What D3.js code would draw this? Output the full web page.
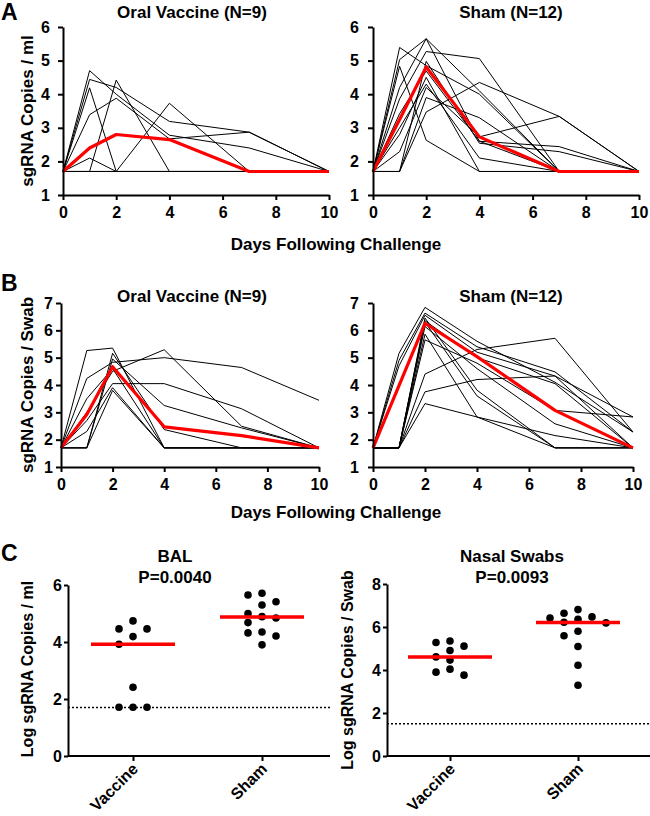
<!DOCTYPE html>
<html><head><meta charset="utf-8">
<script src="https://cdn.jsdelivr.net/npm/d3@7"></script>
<style>
body{margin:0;background:#fff;}
svg text{font-family:"Liberation Sans",Arial,Helvetica,sans-serif;font-weight:bold;fill:#000;}
</style></head><body>
<svg id="c" width="650" height="816"></svg>
<script>
// ---------- DATA ----------
const days = [0, 1, 2, 4, 7, 10];
const dayTicks = [0, 2, 4, 6, 8, 10];

// Panel A: sgRNA copies / ml (BAL), log10
const vaccineBAL = [
  [1.7, 4.70, 4.00, 2.78, 2.40, 1.7],
  [1.7, 4.44, 4.20, 3.19, 2.87, 1.7],
  [1.7, 4.19, 1.70, 1.70, 1.70, 1.7],
  [1.7, 3.39, 3.88, 2.67, 2.87, 1.7],
  [1.7, 1.70, 4.42, 1.70, 1.70, 1.7],
  [1.7, 1.70, 1.70, 3.73, 1.70, 1.7],
  [1.7, 2.10, 1.70, 1.70, 1.70, 1.7],
  [1.7, 1.70, 1.70, 1.70, 1.70, 1.7],
  [1.7, 1.70, 1.70, 1.70, 1.70, 1.7]
];
const vaccineBALMean = [1.7, 2.40, 2.80, 2.65, 1.70, 1.7];

const shamBAL = [
  [1.7, 5.39, 4.85, 4.00, 1.70, 1.7],
  [1.7, 5.03, 5.65, 2.60, 1.70, 1.7],
  [1.7, 4.83, 2.63, 1.70, 1.70, 1.7],
  [1.7, 4.20, 5.65, 4.10, 1.70, 1.7],
  [1.7, 3.86, 5.27, 5.06, 1.70, 1.7],
  [1.7, 3.42, 4.69, 2.60, 2.44, 1.7],
  [1.7, 3.00, 4.30, 2.10, 1.70, 1.7],
  [1.7, 2.29, 4.20, 2.73, 3.34, 1.7],
  [1.7, 1.70, 3.90, 3.30, 1.70, 1.7],
  [1.7, 1.70, 3.47, 4.35, 3.34, 1.7],
  [1.7, 1.70, 4.98, 2.54, 2.29, 1.7],
  [1.7, 2.80, 4.50, 1.70, 1.70, 1.7]
];
const shamBALMean = [1.7, 3.25, 4.81, 2.73, 1.70, 1.7];

// Panel B: sgRNA copies / swab (nasal), log10
const vaccineSwab = [
  [1.7, 5.26, 5.35, 1.70, 1.70, 1.70],
  [1.7, 3.00, 4.50, 5.29, 2.49, 1.70],
  [1.7, 4.24, 4.83, 5.00, 4.64, 3.44],
  [1.7, 1.70, 5.16, 2.37, 1.70, 1.70],
  [1.7, 2.70, 4.05, 4.05, 3.13, 1.70],
  [1.7, 1.70, 4.95, 3.25, 2.43, 1.70],
  [1.7, 2.30, 3.90, 1.70, 1.70, 1.70],
  [1.7, 1.70, 3.80, 1.70, 1.70, 1.70],
  [1.7, 3.50, 4.60, 1.70, 1.70, 1.70]
];
const vaccineSwabMean = [1.7, 2.92, 4.67, 2.47, 2.15, 1.70];

const shamSwab = [
  [1.7, 5.16, 6.84, 5.60, 4.10, 2.28],
  [1.7, 4.90, 6.63, 5.40, 4.48, 2.28],
  [1.7, 4.70, 6.55, 5.20, 4.33, 1.70],
  [1.7, 1.70, 6.45, 3.81, 1.70, 1.70],
  [1.7, 1.70, 6.35, 5.00, 4.05, 1.70],
  [1.7, 1.70, 6.14, 4.60, 2.58, 1.70],
  [1.7, 1.70, 5.86, 2.83, 1.70, 1.70],
  [1.7, 1.70, 5.65, 4.80, 3.07, 2.83],
  [1.7, 1.70, 4.40, 5.30, 5.71, 2.28],
  [1.7, 1.70, 3.75, 4.20, 4.33, 2.83],
  [1.7, 1.70, 3.32, 2.83, 2.15, 1.70],
  [1.7, 1.70, 6.30, 3.60, 1.70, 1.70]
];
const shamSwabMean = [1.7, 3.98, 6.26, 5.04, 3.07, 1.70];

// Panel C: peak values
const groups = ["Vaccine", "Sham"];
const balVaccine = [4.74, 4.46, 4.46, 4.19, 3.92, 2.41, 1.71, 1.71, 1.71];
const balSham = [5.71, 5.65, 5.41, 5.30, 5.00, 4.89, 4.84, 4.68, 4.35, 4.32, 4.21, 3.90];
const balMeans = [3.92, 4.88];
const balLOD = 1.7;
const nasalVaccine = [5.35, 5.28, 5.11, 4.91, 4.61, 4.46, 4.04, 3.90, 3.76];
const nasalSham = [6.81, 6.64, 6.47, 6.42, 6.36, 6.22, 6.19, 5.80, 5.59, 5.09, 4.22, 3.29];
const nasalMeans = [4.61, 6.21];
const nasalLOD = 1.5;

// ---------- DRAW ----------
const svg = d3.select("#c");
const RED = "#ff0000";
const FONT = '"Liberation Sans",Arial,sans-serif';
const intFmt = d3.format("d");

function styleAxis(g, fs) {
  g.selectAll("path.domain").attr("stroke", "#000").attr("stroke-width", 2);
  g.selectAll(".tick line").attr("stroke", "#000").attr("stroke-width", 2);
  g.selectAll(".tick text").attr("font-size", fs).attr("font-family", FONT).attr("font-weight", "bold").attr("fill", "#000");
}

function linePanel(cfg) {
  const x = d3.scaleLinear().domain([0, 10]).range([cfg.x0, cfg.x1]);
  const y = d3.scaleLinear().domain(cfg.yDomain).range([cfg.yb, cfg.yt]);
  const g = svg.append("g");
  const line = d3.line().x((d, i) => x(days[i])).y(d => y(d));
  g.selectAll("path.animal").data(cfg.series).join("path")
    .attr("class", "animal").attr("d", line)
    .attr("fill", "none").attr("stroke", "#000").attr("stroke-width", 1);
  g.append("path").attr("d", line(cfg.mean))
    .attr("fill", "none").attr("stroke", RED).attr("stroke-width", 3.2).attr("stroke-linejoin", "round");
  const ax = g.append("g").attr("transform", `translate(0,${cfg.yb})`)
    .call(d3.axisBottom(x).tickValues(dayTicks).tickFormat(intFmt).tickSize(5).tickSizeOuter(0).tickPadding(7));
  styleAxis(ax, 16);
  const ay = g.append("g").attr("transform", `translate(${cfg.x0},0)`)
    .call(d3.axisLeft(y).tickValues(d3.range(cfg.yDomain[0], cfg.yDomain[1] + 1)).tickFormat(intFmt)
      .tickSize(5).tickSizeOuter(0).tickPadding(cfg.yPad));
  styleAxis(ay, 16);
  g.append("text").attr("x", cfg.tx).attr("y", cfg.ty).attr("text-anchor", "middle")
    .attr("font-size", 17).text(cfg.title);
}

linePanel({x0: 63, x1: 329, yb: 195, yt: 27, yDomain: [1, 6], series: vaccineBAL, mean: vaccineBALMean,
  title: "Oral Vaccine (N=9)", tx: 192, ty: 18, yPad: 8});
linePanel({x0: 373, x1: 639, yb: 195, yt: 27, yDomain: [1, 6], series: shamBAL, mean: shamBALMean,
  title: "Sham (N=12)", tx: 511, ty: 18, yPad: 9});
linePanel({x0: 61, x1: 319, yb: 467, yt: 303, yDomain: [1, 7], series: vaccineSwab, mean: vaccineSwabMean,
  title: "Oral Vaccine (N=9)", tx: 192, ty: 302, yPad: 3});
linePanel({x0: 373, x1: 633, yb: 467, yt: 303, yDomain: [1, 7], series: shamSwab, mean: shamSwabMean,
  title: "Sham (N=12)", tx: 511, ty: 302, yPad: 9});

// panel letters and shared labels
svg.append("text").attr("x", 1).attr("y", 20).attr("font-size", 23).text("A");
svg.append("text").attr("x", 1).attr("y", 291).attr("font-size", 23).text("B");
svg.append("text").attr("x", 1).attr("y", 561).attr("font-size", 23).text("C");
svg.append("text").attr("x", 336).attr("y", 250).attr("text-anchor", "middle").attr("font-size", 17).text("Days Following Challenge");
svg.append("text").attr("x", 336).attr("y", 518).attr("text-anchor", "middle").attr("font-size", 17).text("Days Following Challenge");
svg.append("text").attr("transform", "translate(33,111) rotate(-90)").attr("text-anchor", "middle").attr("font-size", 17).text("sgRNA Copies / ml");
svg.append("text").attr("transform", "translate(33,385) rotate(-90)").attr("text-anchor", "middle").attr("font-size", 17).text("sgRNA Copies / Swab");

// swarm offsets computed from values
function swarm(vals, y, r, step) {
  const placed = [];
  const order = vals.map((v, i) => i).sort((a, b) => vals[b] - vals[a]);
  const off = new Array(vals.length);
  order.forEach(i => {
    const py = y(vals[i]);
    const cands = [0];
    for (let k = 1; k < 6; k++) { cands.push(-k * step, k * step); }
    for (const dx of cands) {
      const ok = placed.every(p => Math.hypot(p.dx - dx, p.py - py) >= r);
      if (ok) { off[i] = dx; placed.push({dx, py}); break; }
    }
  });
  return off;
}

function dotPanel(cfg) {
  const y = d3.scaleLinear().domain([0, cfg.yMax]).range([cfg.yb, cfg.yt]);
  const x = d3.scalePoint().domain(groups).range([cfg.c0, cfg.c1]);
  const g = svg.append("g");
  // LOD line
  g.append("line").attr("x1", cfg.x0).attr("x2", cfg.x1).attr("y1", y(cfg.lod)).attr("y2", y(cfg.lod))
    .attr("stroke", "#000").attr("stroke-width", 1.6).attr("stroke-dasharray", "2,2");
  // axes
  const ax = g.append("g").attr("transform", `translate(0,${cfg.yb})`)
    .call(d3.axisBottom(x).tickSize(5).tickSizeOuter(0).tickFormat(""));
  ax.select("path.domain").attr("d", `M${cfg.x0},0H${cfg.x1}`);
  styleAxis(ax, 16);
  // rotated category labels
  g.selectAll("text.cat").data(groups).join("text").attr("class", "cat")
    .attr("text-anchor", "end").attr("font-size", 16)
    .attr("transform", d => `translate(${x(d) + 6},${cfg.yb + 14}) rotate(-45)`)
    .text(d => d);
  const ay = g.append("g").attr("transform", `translate(${cfg.x0},0)`)
    .call(d3.axisLeft(y).tickValues(d3.range(0, cfg.yMax + 1, 2)).tickFormat(intFmt).tickSize(4).tickSizeOuter(0).tickPadding(2));
  styleAxis(ay, 16);
  // dots
  const sets = [cfg.vac, cfg.sham];
  sets.forEach((vals, gi) => {
    const off = swarm(vals, y, 9, 14);
    g.selectAll(null).data(vals).join("circle")
      .attr("cx", (d, i) => x(groups[gi]) + off[i]).attr("cy", d => y(d)).attr("r", 3.8).attr("fill", "#000");
  });
  // means
  g.selectAll("line.mean").data(cfg.means).join("line").attr("class", "mean")
    .attr("x1", (d, i) => x(groups[i]) - 42).attr("x2", (d, i) => x(groups[i]) + 42)
    .attr("y1", d => y(d)).attr("y2", d => y(d)).attr("stroke", RED).attr("stroke-width", 3.5);
  g.append("text").attr("x", cfg.tx).attr("y", 562).attr("text-anchor", "middle").attr("font-size", 17).text(cfg.title);
  g.append("text").attr("x", cfg.tx).attr("y", 583).attr("text-anchor", "middle").attr("font-size", 17).text(cfg.p);
  g.append("text").attr("transform", `translate(${cfg.lx},${cfg.ly}) rotate(-90)`).attr("text-anchor", "middle")
    .attr("font-size", 16).text(cfg.ylab);
}

dotPanel({x0: 68, x1: 330, yb: 756, yt: 585, yMax: 6, c0: 133, c1: 262, lod: balLOD,
  vac: balVaccine, sham: balSham, means: balMeans, title: "BAL", p: "P=0.0040", tx: 175,
  ylab: "Log sgRNA Copies / ml", lx: 33, ly: 669});
dotPanel({x0: 387, x1: 650, yb: 756, yt: 584, yMax: 8, c0: 450, c1: 578, lod: nasalLOD,
  vac: nasalVaccine, sham: nasalSham, means: nasalMeans, title: "Nasal Swabs", p: "P=0.0093", tx: 512,
  ylab: "Log sgRNA Copies / Swab", lx: 353, ly: 670});
</script></body></html>
